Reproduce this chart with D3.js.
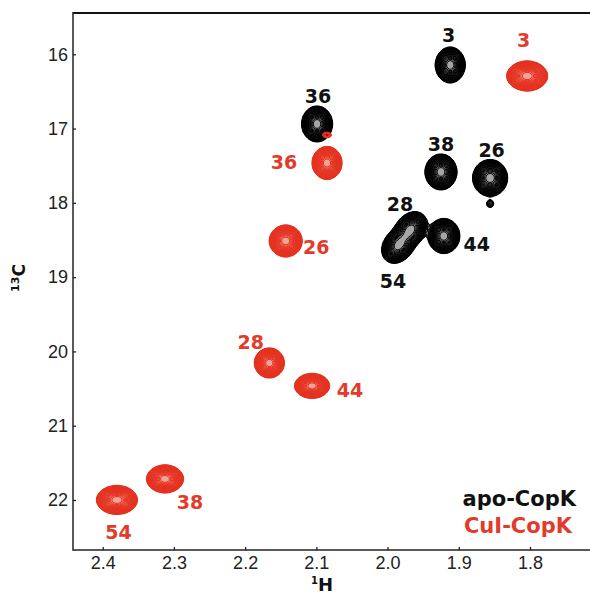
<!DOCTYPE html>
<html><head><meta charset="utf-8">
<script src="https://cdn.jsdelivr.net/npm/d3@7"></script>
<style>html,body{margin:0;padding:0;background:#fff}</style>
</head><body><svg id="c" width="590" height="595"></svg>
<script>
// ---------------- data ----------------
const xTicks = [2.4, 2.3, 2.2, 2.1, 2.0, 1.9, 1.8];          // 1H ppm
const yTicks = [16, 17, 18, 19, 20, 21, 22];                  // 13C ppm
const legendLabels = ["apo-CopK", "CuI-CopK"];

// apo-CopK peaks (black)
const apoResidue  = ["3", "36", "38", "26", "28", "54", "44", ""];
const apoH        = [1.912, 2.099, 1.925, 1.856, 1.9676, 1.9847, 1.921, 1.856];
const apoC        = [16.144, 16.938, 17.584, 17.665, 18.359, 18.572, 18.446, 18.015];
const apoWidthH   = [0.0211, 0.0218, 0.0225, 0.0246, 0.0275, 0.0275, 0.0225, 0.0103];
const apoWidthC   = [0.242, 0.242, 0.242, 0.249, 0.201, 0.201, 0.236, 0.099];
const apoTilt     = [0, 0, 0, 0, -52, -52, 0, 0];
const apoIntensity= [1, 1, 1, 1, 1, 1, 1, 0.1];

// CuI-CopK peaks (red)
const cuResidue   = ["3", "36", "26", "28", "44", "54", "38", ""];
const cuH         = [1.804, 2.085, 2.143, 2.166, 2.106, 2.380, 2.3125, 2.085];
const cuC         = [16.292, 17.463, 18.513, 20.155, 20.464, 21.999, 21.716, 17.086];
const cuWidthH    = [0.0288, 0.0211, 0.0232, 0.0211, 0.0246, 0.0288, 0.026, 0.012];
const cuWidthC    = [0.202, 0.222, 0.215, 0.202, 0.168, 0.195, 0.188, 0.07];
const cuTilt      = [0, 0, 0, 0, 0, 0, 0, 0];
const cuIntensity = [1, 1, 1, 1, 1, 1, 1, 0.12];

// ---------------- layout ----------------
const W = 590, H = 595;
const X0 = 73, X1 = 590, Y0 = 13, Y1 = 550;
const BLACK = "#111", RED = "#e5311f", REDTXT = "#e23b2b";
// label offsets (px) from peak centre to label centre
const apoLabelOff = {"3":[-1.5,-30], "36":[1,-28], "38":[0,-27.5], "26":[1.5,-28], "28":[-10.6,-25.6], "54":[-5.4,36.1], "44":[33,8]};
const cuLabelOff  = {"3":[-3.5,-36], "36":[-43,-0.5], "26":[30.5,6], "28":[-18.5,-20.5], "44":[38,4], "54":[1.5,32.5], "38":[25,23.5]};

const x = d3.scaleLinear().domain([2.4 + (102.7 - X0) / 712, 1.8 - (X1 - 530) / 712]).range([X0, X1]);
const y = d3.scaleLinear().domain([16 - (54.3 - Y0) / 74.3, 22 + (Y1 - 500) / 74.3]).range([Y0, Y1]);

const svg = d3.select("#c");
svg.append("rect").attr("width", W).attr("height", H).attr("fill", "#fff");

function makePeaks(res, h, c, wh, wc, tilt, inten) {
  return res.map((r, i) => ({res: r, h: h[i], c: c[i], wh: wh[i], wc: wc[i], tilt: tilt[i], I: inten[i]}));
}
const apoPeaks = makePeaks(apoResidue, apoH, apoC, apoWidthH, apoWidthC, apoTilt, apoIntensity);
const cuPeaks  = makePeaks(cuResidue, cuH, cuC, cuWidthH, cuWidthC, cuTilt, cuIntensity);

// contour rendering of peak list
const step = 2;
const n = Math.ceil((X1 - X0) / step), m = Math.ceil((Y1 - Y0) / step);
const levels = d3.range(24).map(k => 0.05 * Math.pow(1.13, k));
function field(peaks) {
  const vals = new Float64Array(n * m);
  peaks.forEach(p => {
    const cx = x(p.h), cy = y(p.c);
    const sa = Math.abs(x(p.h + p.wh) - cx) / 2.45;
    const sb = Math.abs(y(p.c + p.wc) - cy) / 2.45;
    const t = p.tilt * Math.PI / 180, ct = Math.cos(t), st = Math.sin(t);
    const R = 4 * Math.max(sa, sb);
    const i0 = Math.max(0, Math.floor((cx - R - X0) / step)), i1 = Math.min(n - 1, Math.ceil((cx + R - X0) / step));
    const j0 = Math.max(0, Math.floor((cy - R - Y0) / step)), j1 = Math.min(m - 1, Math.ceil((cy + R - Y0) / step));
    for (let j = j0; j <= j1; j++) {
      const py = Y0 + (j + 0.5) * step - cy;
      for (let i = i0; i <= i1; i++) {
        const px = X0 + (i + 0.5) * step - cx;
        const u = px * ct + py * st, v = -px * st + py * ct;
        vals[j * n + i] += p.I * Math.exp(-0.5 * ((u / sa) ** 2 + (v / sb) ** 2));
      }
    }
  });
  return Array.from(vals);
}
const proj = d3.geoTransform({point(a, b) { this.stream.point(X0 + a * step, Y0 + b * step); }});
const path = d3.geoPath(proj);
function drawContours(peaks, color, fillOpacity) {
  const cs = d3.contours().size([n, m]).thresholds(levels)(field(peaks));
  const g = svg.append("g");
  g.append("path").datum(cs[0]).attr("d", path).attr("fill", color).attr("fill-opacity", fillOpacity).attr("stroke", "none");
  g.selectAll("path.c").data(cs).join("path").attr("class", "c")
    .attr("d", path).attr("fill", "none").attr("stroke", color).attr("stroke-width", 1);
}
drawContours(apoPeaks, "#000", 0.35);
drawContours(cuPeaks, RED, 0.45);

// peak labels
function drawLabels(peaks, off, color) {
  svg.append("g").selectAll("text").data(peaks.filter(p => p.res !== "")).join("text")
    .attr("x", p => x(p.h) + off[p.res][0])
    .attr("y", p => y(p.c) + off[p.res][1] + 7)
    .attr("text-anchor", "middle")
    .attr("font-family", "DejaVu Sans").attr("font-weight", "bold").attr("font-size", 19)
    .attr("fill", color).text(p => p.res);
}
drawLabels(apoPeaks, apoLabelOff, BLACK);
drawLabels(cuPeaks, cuLabelOff, REDTXT);

// axes
const gx = svg.append("g").attr("transform", `translate(0,${Y1})`)
  .call(d3.axisBottom(x).tickValues(xTicks).tickSizeInner(-3).tickSizeOuter(0).tickPadding(6).tickFormat(d3.format(".1f")));
const gy = svg.append("g").attr("transform", `translate(${X0},0)`)
  .call(d3.axisLeft(y).tickValues(yTicks).tickSizeInner(-3).tickSizeOuter(0).tickPadding(5).tickFormat(d3.format("d")));
[gx, gy].forEach(g => {
  g.select(".domain").remove();
  g.selectAll(".tick line").attr("stroke", "#222").attr("stroke-width", 1.3);
  g.selectAll(".tick text").attr("fill", "#222").attr("font-family", "Liberation Sans").attr("font-size", 18);
});
// frame
svg.append("line").attr("x1", X0).attr("x2", X1).attr("y1", Y0).attr("y2", Y0).attr("stroke", "#111").attr("stroke-width", 2);
svg.append("line").attr("x1", X0).attr("x2", X1).attr("y1", Y1).attr("y2", Y1).attr("stroke", "#222").attr("stroke-width", 1.5);
svg.append("line").attr("x1", X0).attr("x2", X0).attr("y1", Y0 - 1).attr("y2", Y1 + 0.75).attr("stroke", "#222").attr("stroke-width", 1.5);

// axis titles
const xt = svg.append("text").attr("x", 311).attr("y", 590.5).attr("font-family", "DejaVu Sans").attr("font-weight", "bold").attr("fill", BLACK);
xt.append("tspan").attr("font-size", 10).attr("dy", -7).text("1");
xt.append("tspan").attr("font-size", 18).attr("dy", 7).text("H");
const yt = svg.append("text").attr("transform", "translate(25,278) rotate(-90)").attr("text-anchor", "middle")
  .attr("font-family", "DejaVu Sans").attr("font-weight", "bold").attr("fill", BLACK);
yt.append("tspan").attr("font-size", 11).attr("dy", -6).text("13");
yt.append("tspan").attr("font-size", 17).attr("dy", 6).text("C");

// legend
svg.append("text").attr("x", 576).attr("y", 506).attr("text-anchor", "end")
  .attr("font-family", "DejaVu Sans").attr("font-weight", "bold").attr("font-size", 21).attr("fill", BLACK).text(legendLabels[0]);
svg.append("text").attr("x", 572).attr("y", 533).attr("text-anchor", "end")
  .attr("font-family", "DejaVu Sans").attr("font-weight", "bold").attr("font-size", 21).attr("fill", REDTXT).text(legendLabels[1]);
</script></body></html>
